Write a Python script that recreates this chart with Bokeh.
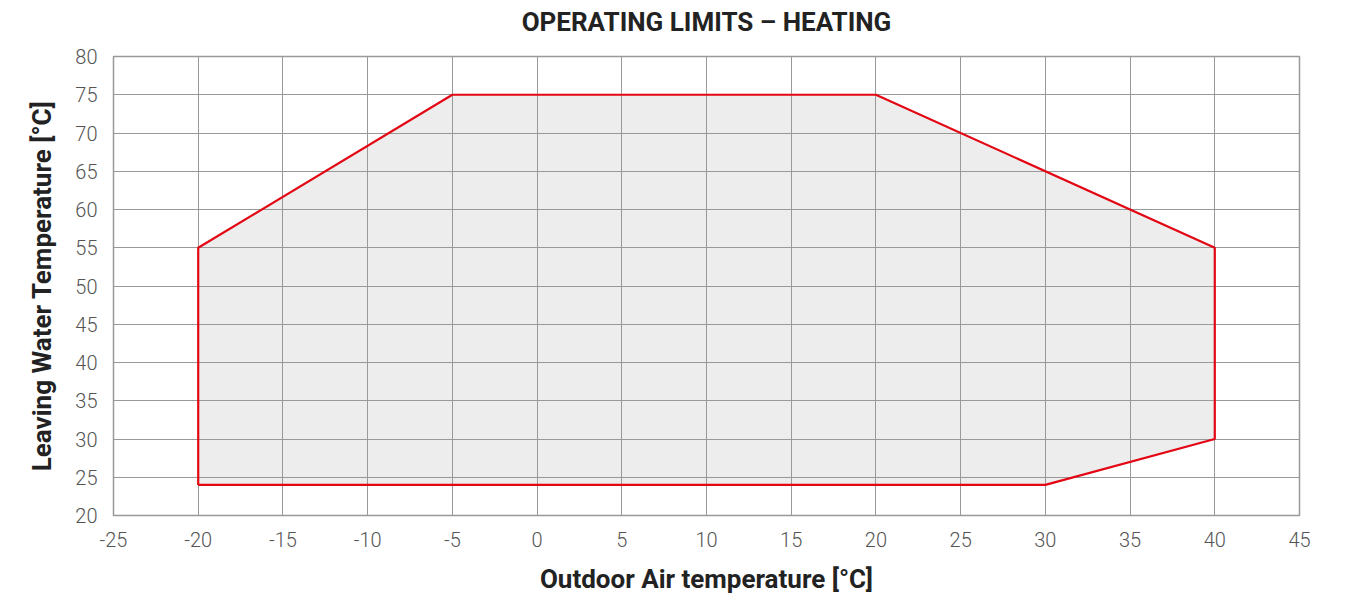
from bokeh.plotting import figure
from bokeh.embed import file_html
from bokeh.resources import INLINE
from bokeh.models import Range1d, FixedTicker, Title

# Operating envelope (outdoor air temp, leaving water temp)
env_x = [-20, -20, -5, 20, 40, 40, 30, -20]
env_y = [24, 55, 75, 75, 55, 30, 24, 24]

x_ticks = list(range(-25, 50, 5))
y_ticks = list(range(20, 85, 5))

title_text = "OPERATING LIMITS – HEATING"

p = figure(width=1329, height=598, output_backend="svg", toolbar_location=None,
           x_range=Range1d(-25, 45), y_range=Range1d(20, 80),
           min_border_left=113, min_border_right=30, min_border_top=10, min_border_bottom=83)

p.title.text = title_text
p.title.align = "center"
p.title.text_font = "Roboto"
p.title.text_font_size = "26px"
p.title.text_font_style = "bold"
p.title.text_color = "#222222"
p.title.text_line_height = 1.0
p.title.standoff = 8

# blank spacer between title and plot frame
p.add_layout(Title(text=" ", standoff=13, text_font_size="1px"), "above")

env_fill = p.patch(env_x, env_y, fill_color="#ededed", line_color=None)
env_fill.level = "image"
p.line(env_x, env_y, line_color="#e30613", line_width=2.2)

for ax, ticks in ((p.xaxis, x_ticks), (p.yaxis, y_ticks)):
    ax.ticker = FixedTicker(ticks=ticks)
    ax.major_label_overrides = {t: str(t) for t in ticks}
    ax.axis_line_color = None
    ax.major_tick_line_color = None
    ax.minor_tick_line_color = None
    ax.major_label_text_font = "'Roboto Light', Roboto"
    ax.major_label_text_font_size = "20px"
    ax.major_label_text_color = "#555555"
    ax.axis_label_text_font = "Roboto"
    ax.axis_label_text_font_size = "26px"
    ax.axis_label_text_font_style = "bold"
    ax.axis_label_text_color = "#222222"

p.xaxis.axis_label = "Outdoor Air temperature [°C]"
p.yaxis.axis_label = "Leaving Water Temperature [°C]"
p.xaxis.major_label_standoff = 10
p.xaxis.axis_label_standoff = 14
p.yaxis.major_label_standoff = 10
p.yaxis.axis_label_standoff = 15

p.xgrid.grid_line_color = "#999999"
p.ygrid.grid_line_color = "#999999"
p.grid.grid_line_alpha = 1.0
p.outline_line_color = "#999999"
p.outline_line_width = 1.5
p.background_fill_color = "white"
p.border_fill_color = "white"

open("out.html", "w").write(file_html(p, INLINE))
